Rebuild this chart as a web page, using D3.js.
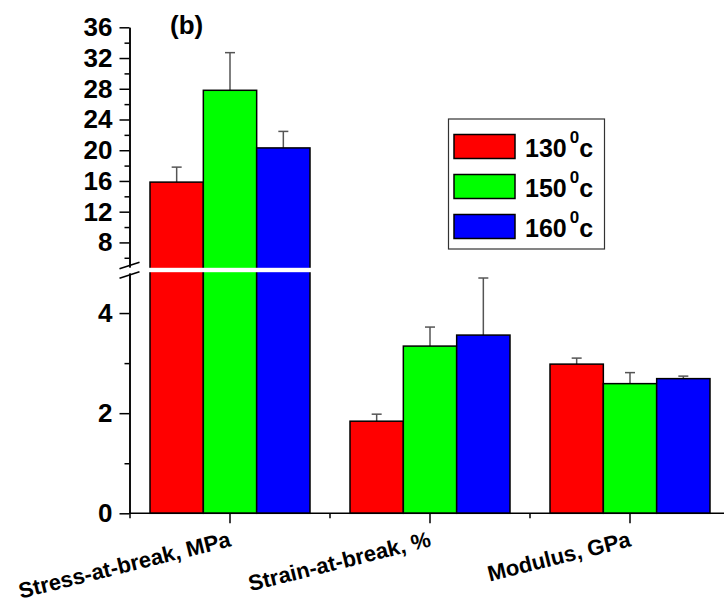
<!DOCTYPE html>
<html>
<head>
<meta charset="utf-8">
<script src="https://cdn.jsdelivr.net/npm/d3@7"></script>
<style>
  body { margin: 0; background: #fff; }
  svg text { font-family: "Liberation Sans", Arial, sans-serif; font-weight: bold; }
</style>
</head>
<body>
<script>
var w = 724;
var h = 603;

// data
var categories = ["Stress-at-break, MPa", "Strain-at-break, %", "Modulus, GPa"];
var series = ["130", "150", "160"];
var colors = ["#ff0000", "#00ff00", "#0000ff"];
var v130 = [15.85, 1.84, 2.98];
var e130 = [1.95, 0.14, 0.12];
var v150 = [27.8, 3.34, 2.59];
var e150 = [4.9, 0.38, 0.22];
var v160 = [20.3, 3.56, 2.69];
var e160 = [2.15, 1.14, 0.05];
var upperTicks = [8, 12, 16, 20, 24, 28, 32, 36];
var upperMinor = [6, 10, 14, 18, 22, 26, 30, 34];
var lowerTicks = [0, 2, 4];
var lowerMinor = [1, 3];
var breakAt = 4.8;

var values = [v130, v150, v160];
var errors = [e130, e150, e160];

var bars = [];
series.forEach(function(s, si) {
	categories.forEach(function(c, ci) {
		bars.push({cat: c, ser: s, si: si, v: values[si][ci], e: errors[si][ci]});
	});
});

var svg = d3.select("body").append("svg")
	.attr("width", w)
	.attr("height", h);

// broken y axis: two scales
var yLow = d3.scaleLinear().domain([0, breakAt]).range([513.3, 273]);
var yUp = d3.scaleLinear().domain([breakAt, 36]).range([267, 27.3]);
function yPos(v) {
	return v <= breakAt ? yLow(v) : yUp(v);
}

var xScale = d3.scaleBand()
	.domain(categories)
	.range([130, 730])
	.padding(0);
var xInner = d3.scaleBand()
	.domain(series)
	.range([0, xScale.bandwidth()])
	.paddingInner(0)
	.paddingOuter(0.375);

function barMid(d) { return xScale(d.cat) + xInner(d.ser) + xInner.bandwidth() / 2; }

// error bars (behind bars)
var eb = svg.append("g");
eb.selectAll("line.stem")
	.data(bars)
	.enter()
	.append("line")
	.attr("x1", barMid)
	.attr("x2", barMid)
	.attr("y1", function(d) { return yPos(d.v); })
	.attr("y2", function(d) { return yPos(d.v + d.e); })
	.attr("stroke", "#555")
	.attr("stroke-width", 1.5);
eb.selectAll("line.cap")
	.data(bars)
	.enter()
	.append("line")
	.attr("x1", function(d) { return barMid(d) - 5; })
	.attr("x2", function(d) { return barMid(d) + 5; })
	.attr("y1", function(d) { return yPos(d.v + d.e); })
	.attr("y2", function(d) { return yPos(d.v + d.e); })
	.attr("stroke", "#555")
	.attr("stroke-width", 1.5);

svg.append("g").selectAll("rect")
	.data(bars)
	.enter()
	.append("rect")
	.attr("x", function(d) { return xScale(d.cat) + xInner(d.ser); })
	.attr("width", xInner.bandwidth())
	.attr("y", function(d) { return yPos(d.v); })
	.attr("height", function(d) { return yPos(0) - yPos(d.v); })
	.attr("fill", function(d) { return colors[d.si]; })
	.attr("stroke", "#000")
	.attr("stroke-width", 1.5);

// white gap through bars that cross the break
var crossing = bars.filter(function(d) { return d.v > breakAt; });
var gx0 = d3.min(crossing, function(d) { return xScale(d.cat) + xInner(d.ser); }) - 2;
var gx1 = d3.max(crossing, function(d) { return xScale(d.cat) + xInner(d.ser) + xInner.bandwidth(); }) + 2;
svg.append("rect")
	.attr("x", gx0)
	.attr("width", gx1 - gx0)
	.attr("y", yUp(breakAt) + 0.8)
	.attr("height", yLow(breakAt) - yUp(breakAt) - 1.6)
	.attr("fill", "#fff");

// y axes
function styleAxis(g) {
	g.selectAll("path, line").attr("stroke", "#000").attr("stroke-width", 1.5);
	g.selectAll("text").attr("font-size", "26px").attr("fill", "#000");
}
var axX = 129.5;
svg.append("g").attr("transform", "translate(" + axX + ",0)")
	.call(d3.axisLeft(yUp).tickValues(upperTicks).tickSize(10).tickSizeOuter(0).tickPadding(7).tickFormat(d3.format("d")))
	.call(styleAxis);
svg.append("g").attr("transform", "translate(" + axX + ",0)")
	.call(d3.axisLeft(yUp).tickValues(upperMinor).tickSize(5).tickSizeOuter(0).tickFormat(""))
	.call(styleAxis);
svg.append("g").attr("transform", "translate(" + axX + ",0)")
	.call(d3.axisLeft(yLow).tickValues(lowerTicks).tickSize(10).tickSizeOuter(0).tickPadding(7).tickFormat(d3.format("d")))
	.call(styleAxis);
svg.append("g").attr("transform", "translate(" + axX + ",0)")
	.call(d3.axisLeft(yLow).tickValues(lowerMinor).tickSize(5).tickSizeOuter(0).tickFormat(""))
	.call(styleAxis);

// break marks on the axis
var breakMarks = [yUp(breakAt) - 1.5, yLow(breakAt) + 2];
svg.selectAll("line.brk")
	.data(breakMarks)
	.enter()
	.append("line")
	.attr("x1", axX - 10).attr("x2", axX + 10)
	.attr("y1", function(d) { return d + 3.3; })
	.attr("y2", function(d) { return d - 3.3; })
	.attr("stroke", "#000")
	.attr("stroke-width", 1.5);

// x axis
var xAxisG = svg.append("g").attr("transform", "translate(0," + yLow(0) + ")")
	.call(d3.axisBottom(xScale).tickSize(10).tickSizeOuter(0).tickFormat(""));
xAxisG.select(".domain").attr("d", "M" + axX + ",0H" + w);
xAxisG.selectAll("path, line").attr("stroke", "#000").attr("stroke-width", 1.5);
svg.append("g").selectAll("line")
	.data(categories.concat(["end"]))
	.enter()
	.append("line")
	.attr("x1", function(d, i) { return 130 + i * xScale.step(); })
	.attr("x2", function(d, i) { return 130 + i * xScale.step(); })
	.attr("y1", yLow(0))
	.attr("y2", yLow(0) + 5)
	.attr("stroke", "#000")
	.attr("stroke-width", 1.5);

svg.append("g").selectAll("text")
	.data(categories)
	.enter()
	.append("text")
	.text(function(d) { return d; })
	.attr("text-anchor", "end")
	.attr("font-size", "22px")
	.attr("transform", function(d) {
		return "translate(" + (xScale(d) + xScale.bandwidth() / 2 + 2) + ",546) rotate(-14)";
	});

// panel label
svg.append("text")
	.attr("x", 170)
	.attr("y", 34)
	.attr("font-size", "26px")
	.text("(b)");

// legend
var legend = svg.append("g");
legend.append("rect")
	.attr("x", 448.5).attr("y", 119)
	.attr("width", 156).attr("height", 130)
	.attr("fill", "#fff")
	.attr("stroke", "#333")
	.attr("stroke-width", 1.2);
var items = legend.selectAll("g.item")
	.data(series)
	.enter()
	.append("g")
	.attr("transform", function(d, i) { return "translate(0," + (i * 40) + ")"; });
items.append("rect")
	.attr("x", 454).attr("y", 134.5)
	.attr("width", 61).attr("height", 24)
	.attr("fill", function(d, i) { return colors[i]; })
	.attr("stroke", "#000")
	.attr("stroke-width", 1.5);
var lt = items.append("text")
	.attr("x", 525)
	.attr("y", 156.5)
	.attr("font-size", "25px");
lt.append("tspan").text(function(d) { return d; });
lt.append("tspan").attr("dx", 3).attr("dy", -14).attr("font-size", "17px").text("0");
lt.append("tspan").attr("dx", 0).attr("dy", 14).text("c");
</script>
</body>
</html>
